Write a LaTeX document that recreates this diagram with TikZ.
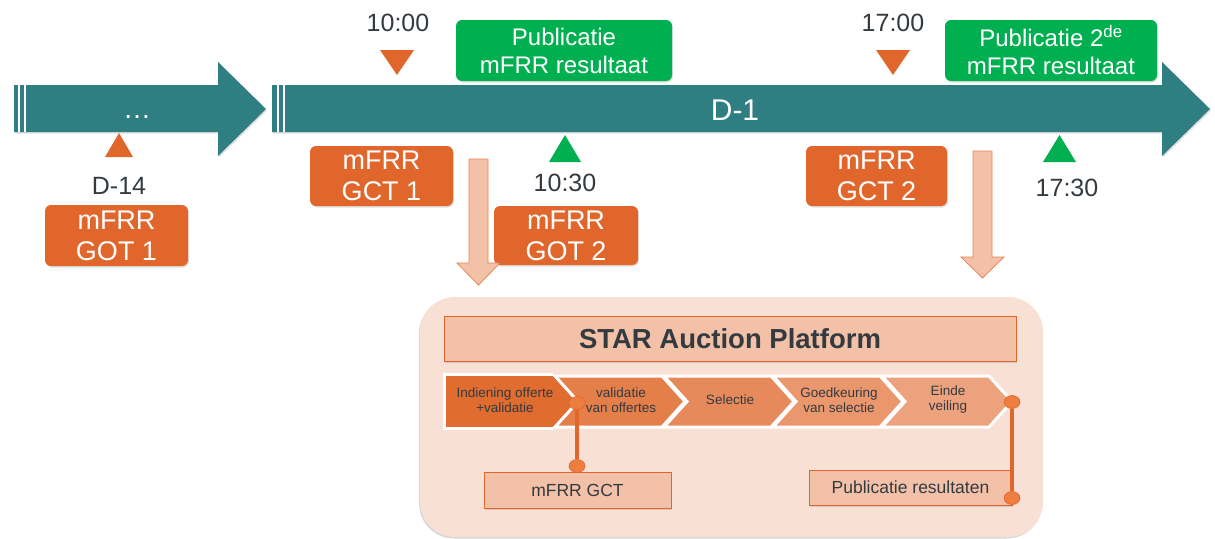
\documentclass[tikz,border=0pt]{standalone}
\usepackage{fontspec}
\setmainfont{Liberation Sans}
\usetikzlibrary{shadows,shapes.geometric}

\begin{document}
\begin{tikzpicture}[x=1pt,y=-1pt,
	schaduw/.style={drop shadow={opacity=0.25,shadow xshift=1pt,shadow yshift=-1.5pt}},
	tijdbox/.style={rounded corners=6pt,fill=oranje,text=white,align=center,inner sep=0pt,
		font=\fontsize{27}{31}\selectfont,schaduw},
	pubbox/.style={rounded corners=6pt,fill=groen,text=white,align=center,inner sep=0pt,
		font=\fontsize{24}{28}\selectfont,schaduw},
	uur/.style={text=donker,font=\fontsize{25}{28}\selectfont},
	stapbox/.style={fill=zalm,draw=oranje,line width=1pt,inner sep=0pt,text=donker,schaduw},
	chevtxt/.style={text=donker,align=center,font=\fontsize{13.5}{15}\selectfont},
	knop/.style={ellipse,fill=knopkleur,draw=oranje,line width=0.6pt,minimum width=16pt,minimum height=13pt,inner sep=0pt},
	lijn/.style={draw=oranje,line width=3.5pt}
	]
					\definecolor{tealblauw}{HTML}{2F7E82}
					\definecolor{oranje}{HTML}{E0662B}
					\definecolor{groen}{HTML}{00B050}
					\definecolor{zalm}{HTML}{F2C1A8}
					\definecolor{paneel}{HTML}{F8E0D4}
					\definecolor{donker}{HTML}{333A40}
					\definecolor{knopkleur}{HTML}{EE7D40}
					\useasboundingbox (0,0) rectangle (1215,538);
					% tijdlijn
					\fill[tealblauw,schaduw] (14,85) -- (218,85) -- (218,62) -- (266,109) -- (218,156) -- (218,132) -- (14,132) -- cycle;
					\fill[tealblauw,schaduw] (272,85) -- (1162,85) -- (1162,62) -- (1210,109) -- (1162,156) -- (1162,132) -- (272,132) -- cycle;
					\foreach \x in {19,25,278,284}
						\draw[white,line width=1.2pt] (\x,85) -- (\x,132);
					\node[text=white,font=\fontsize{28}{30}\selectfont] (dots) at (137,117) {\dots};
					\node[text=white,font=\fontsize{30}{32}\selectfont] (dag) at (735,110) {D-1};
					
					% markeringen
					\fill[oranje] (105,157) -- (133,157) -- (119,133) -- cycle;
					\fill[oranje] (380,50) -- (414,50) -- (397,75) -- cycle;
					\fill[oranje] (876,50) -- (910,50) -- (893,75) -- cycle;
					\fill[groen] (549,162) -- (581,162) -- (565,135) -- cycle;
					\fill[groen] (1043,162) -- (1076,162) -- (1059.5,135) -- cycle;
					\node[uur] (d14) at (119,186) {D-14};
					\node[uur] (t1000) at (398,23) {10:00};
					\node[uur] (t1700) at (893,23) {17:00};
					\node[uur] (t1030) at (565,183) {10:30};
					\node[uur] (t1730) at (1067,188) {17:30};
					
					\node[tijdbox,minimum width=143pt,minimum height=61pt] (got1) at (116.5,235.5) {mFRR\\GOT 1};
					\node[tijdbox,minimum width=143pt,minimum height=60pt] (gct1) at (381.5,176) {mFRR\\GCT 1};
					\node[tijdbox,minimum width=144pt,minimum height=59pt] (got2) at (566,235.5) {mFRR\\GOT 2};
					\node[tijdbox,minimum width=141pt,minimum height=60pt] (gct2) at (876.5,176) {mFRR\\GCT 2};
					\node[pubbox,minimum width=216pt,minimum height=61pt] (pub1) at (564,50.5) {Publicatie\\mFRR resultaat};
					\node[pubbox,minimum width=212pt,minimum height=61pt] (pub2) at (1051,50.5) {Publicatie 2\textsuperscript{de}\\mFRR resultaat};
					
					% pijlen naar platform
					\draw[fill=zalm,draw=oranje!80,line width=0.8pt] (469,159) -- (488,159) -- (488,263) -- (500,263) -- (478.5,285) -- (457,263) -- (469,263) -- cycle;
					\draw[fill=zalm,draw=oranje!80,line width=0.8pt] (973,151) -- (992,151) -- (992,257) -- (1004,257) -- (982.5,278) -- (961,257) -- (973,257) -- cycle;
					
					% platform
					\fill[paneel,rounded corners=35pt,drop shadow={opacity=0.3,shadow xshift=-1pt,shadow yshift=-1.5pt}] (420,297) rectangle (1043,537);
					\node[stapbox,minimum width=572pt,minimum height=45pt,font=\bfseries\fontsize{27.5}{29}\selectfont] (star) at (730,338.5) {STAR Auction Platform};
					\foreach \i/\kl in {1/E06C2F,2/E57F4A,3/E78A5B,4/EA976D,5/EDA27E}{
						\pgfmathsetmacro{\a}{446+109*(\i-1)}
						\definecolor{chev}{HTML}{\kl}
						\ifnum\i=1
							\fill[chev] (\a,376) -- ({\a+107},376) -- ({\a+130},401.5) -- ({\a+107},427) -- (\a,427) -- cycle;
						\else
							\draw[fill=chev,draw=white,line width=3pt,line join=miter] (\a,376) -- ({\a+107},376) -- ({\a+130},401.5) -- ({\a+107},427) -- (\a,427) -- ({\a+23},401.5) -- cycle;
						\fi
					}
					\draw[white,line width=3pt] (553,374.5) -- (444.5,374.5) -- (444.5,428.5) -- (553,428.5);
					\node[chevtxt] (c1) at (505,400) {Indiening offerte\\+validatie};
					\node[chevtxt] (c2) at (621,400) {validatie\\van offertes};
					\node[chevtxt] (c3) at (730,400) {Selectie};
					\node[chevtxt] (c4) at (839,400) {Goedkeuring\\van selectie};
					\node[chevtxt] (c5) at (948,400) {Einde\\veiling};
					
					\node[stapbox,minimum width=187pt,minimum height=36pt,font=\fontsize{17.5}{19}\selectfont] (gct) at (577.5,490) {mFRR GCT};
					\node[stapbox,minimum width=203pt,minimum height=35pt,font=\fontsize{17.5}{19}\selectfont] (pubres) at (910.5,487.5) {Publicatie resultaten};
					
					\node[knop] (k1) at (577,403) {};
					\node[knop] (k2) at (577,466) {};
					\node[knop] (k3) at (1012,402) {};
					\node[knop] (k4) at (1012,498) {};
					\draw[lijn] (k1) -- (k2);
					\draw[lijn] (k3) -- (k4);
				\end{tikzpicture}
\end{document}
